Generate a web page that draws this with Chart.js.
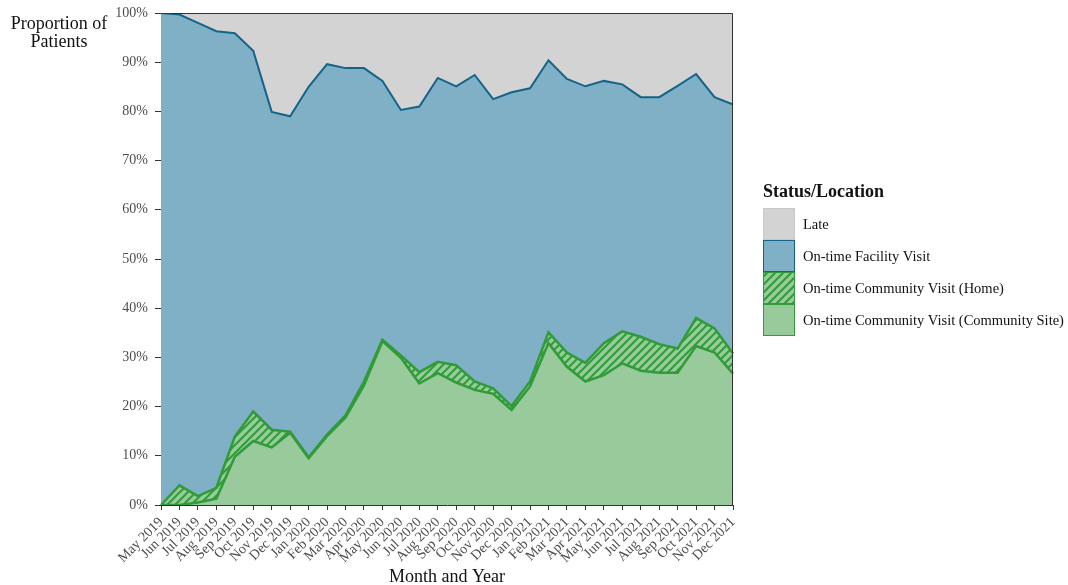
<!DOCTYPE html>
<html><head><meta charset="utf-8">
<script src="https://cdn.jsdelivr.net/npm/chart.js@4"></script>
<style>html,body{margin:0;padding:0;background:#fff;}#wrap{width:1068px;height:585px;position:relative;}</style>
</head><body><div id="wrap"><canvas id="c" width="1068" height="585"></canvas></div>
<script>
const months = ['May 2019','Jun 2019','Jul 2019','Aug 2019','Sep 2019','Oct 2019','Nov 2019','Dec 2019',
  'Jan 2020','Feb 2020','Mar 2020','Apr 2020','May 2020','Jun 2020','Jul 2020','Aug 2020','Sep 2020','Oct 2020','Nov 2020','Dec 2020',
  'Jan 2021','Feb 2021','Mar 2021','Apr 2021','May 2021','Jun 2021','Jul 2021','Aug 2021','Sep 2021','Oct 2021','Nov 2021','Dec 2021'];
const communitySite = [0,0,0.5,1.3,9.8,13.0,11.7,14.7,9.5,14.0,17.8,24.3,33.3,29.9,24.7,26.8,24.9,23.4,22.6,19.3,24.1,32.9,28.1,25.1,26.4,28.8,27.3,26.9,26.9,32.3,31.0,26.7];
const communityHome = [0,4.0,1.3,2.2,4.1,6.0,3.6,0.2,0.2,0.3,0.4,0.8,0.3,0.5,2.3,2.3,3.5,1.7,1.1,0.8,1.0,2.2,2.9,3.8,6.5,6.5,6.9,5.8,4.9,5.7,4.9,4.1];
const facility = [100,95.7,96.2,92.8,82.0,73.3,64.6,64.1,75.3,75.3,70.6,63.7,52.6,49.9,54.0,57.7,56.7,62.3,58.8,63.8,59.6,55.3,55.6,56.2,53.3,50.2,48.7,50.2,53.4,49.6,47.0,50.6];
const late = [0,0.3,2.0,3.7,4.1,7.7,20.1,21.0,15.0,10.4,11.2,11.2,13.8,19.7,19.0,13.2,14.9,12.6,17.5,16.1,15.3,9.6,13.4,14.9,13.8,14.5,17.1,17.1,14.8,12.4,17.1,18.6];
const yTicks = [0,10,20,30,40,50,60,70,80,90,100];
const legendLabels = ['Late','On-time Facility Visit','On-time Community Visit (Home)','On-time Community Visit (Community Site)'];

const SERIF = "'Liberation Serif','Times New Roman',serif";
const siteFill = 'rgb(152,202,156)';
const greenLine = 'rgb(48,155,56)';
const blueFill = 'rgb(127,176,198)';
const blueLine = 'rgb(20,100,138)';
const greyFill = 'rgb(211,211,211)';

function makeHatch(){
  const s = 8;
  const c = document.createElement('canvas'); c.width = s; c.height = s;
  const g = c.getContext('2d');
  g.fillStyle = siteFill; g.fillRect(0,0,s,s);
  g.strokeStyle = greenLine; g.lineWidth = 2;
  g.beginPath();
  g.moveTo(0,s); g.lineTo(s,0);
  g.moveTo(-s/2,s/2); g.lineTo(s/2,-s/2);
  g.moveTo(s/2,s*1.5); g.lineTo(s*1.5,s/2);
  g.stroke();
  return g.createPattern(c,'repeat');
}
const hatch = makeHatch();

const decor = {
  id: 'decor',
  afterDraw(chart){
    const {ctx, chartArea: a} = chart;
    ctx.save();
    ctx.strokeStyle = '#333'; ctx.lineWidth = 1;
    ctx.beginPath();
    ctx.moveTo(Math.round(a.left)+0.5, Math.round(a.top)+0.5);
    ctx.lineTo(Math.round(a.right)-0.5, Math.round(a.top)+0.5);
    ctx.lineTo(Math.round(a.right)-0.5, Math.round(a.bottom));
    ctx.stroke();
    ctx.fillStyle = '#111';
    ctx.font = '18px ' + SERIF;
    ctx.textAlign = 'center'; ctx.textBaseline = 'alphabetic';
    ctx.fillText('Proportion of', 59, 29);
    ctx.fillText('Patients', 59, 47);
    ctx.fillText('Month and Year', (a.left + a.right)/2, 582);
    ctx.textAlign = 'left';
    ctx.font = 'bold 18px ' + SERIF;
    ctx.fillText('Status/Location', 763, 197);
    const fills = [greyFill, blueFill, hatch, siteFill];
    const borders = ['rgb(200,200,200)', blueLine, greenLine, greenLine];
    ctx.font = '14.5px ' + SERIF;
    ctx.textBaseline = 'middle';
    for (let i = 0; i < 4; i++){
      const y = 208 + i*32;
      ctx.fillStyle = fills[i];
      ctx.fillRect(763, y, 32, 32);
      ctx.strokeStyle = borders[i]; ctx.lineWidth = 1;
      ctx.strokeRect(763.5, y+0.5, 31, 31);
      ctx.fillStyle = '#111';
      ctx.fillText(legendLabels[i], 803, y + 17);
    }
    ctx.restore();
  }
};

new Chart(document.getElementById('c'), {
  type: 'line',
  data: {
    labels: months,
    datasets: [
      {label: legendLabels[3], data: communitySite, fill: 'origin', backgroundColor: siteFill, borderColor: greenLine, borderWidth: 2.5},
      {label: legendLabels[2], data: communityHome, fill: '-1', backgroundColor: hatch, borderColor: greenLine, borderWidth: 2.5},
      {label: legendLabels[1], data: facility, fill: '-1', backgroundColor: blueFill, borderColor: blueLine, borderWidth: 2},
      {label: legendLabels[0], data: late, fill: '-1', backgroundColor: greyFill, borderColor: 'rgba(0,0,0,0)', borderWidth: 0}
    ]
  },
  options: {
    responsive: false,
    devicePixelRatio: 1,
    animation: false,
    elements: {point: {radius: 0, hoverRadius: 0}, line: {tension: 0}},
    layout: {padding: {left: 0, right: 335, top: 13, bottom: 0}},
    plugins: {legend: {display: false}, tooltip: {enabled: false}},
    scales: {
      x: {
        stacked: true,
        offset: false,
        grid: {display: true, drawOnChartArea: false, drawTicks: true, tickLength: 5, color: '#333'},
        border: {display: true, color: '#333'},
        ticks: {autoSkip: false, minRotation: 45, maxRotation: 45, color: '#4d4d4d', font: {family: SERIF, size: 14}, padding: 4},
        afterFit(s){ s.height = 80; s.paddingLeft = 0; s.paddingRight = 0; }
      },
      y: {
        stacked: true,
        min: 0, max: 100,
        afterBuildTicks(s){ s.ticks = yTicks.map(v => ({value: v})); },
        grid: {display: true, drawOnChartArea: false, drawTicks: true, tickLength: 6, color: '#333'},
        border: {display: true, color: '#333'},
        ticks: {color: '#4d4d4d', font: {family: SERIF, size: 14}, padding: 7, callback: v => v + '%'},
        afterFit(s){ s.width = 161; s.paddingTop = 0; s.paddingBottom = 0; }
      }
    }
  },
  plugins: [decor]
});
</script></body></html>
